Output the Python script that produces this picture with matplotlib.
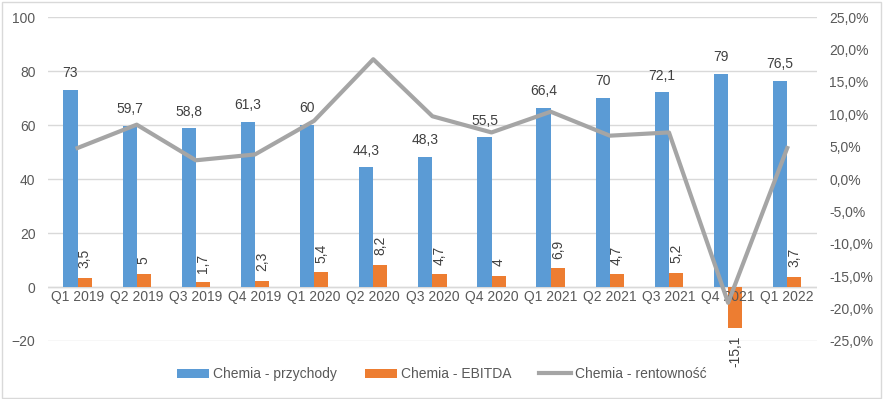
import numpy as np
import matplotlib.pyplot as plt
from matplotlib.patches import Rectangle
from matplotlib.ticker import FuncFormatter

plt.rcParams['font.family'] = ['Liberation Sans', 'DejaVu Sans']

quarters = ['Q1 2019', 'Q2 2019', 'Q3 2019', 'Q4 2019', 'Q1 2020', 'Q2 2020', 'Q3 2020',
            'Q4 2020', 'Q1 2021', 'Q2 2021', 'Q3 2021', 'Q4 2021', 'Q1 2022']
przychody = [73, 59.7, 58.8, 61.3, 60, 44.3, 48.3, 55.5, 66.4, 70, 72.1, 79, 76.5]
ebitda = [3.5, 5, 1.7, 2.3, 5.4, 8.2, 4.7, 4, 6.9, 4.7, 5.2, -15.1, 3.7]
rentownosc = [4.8, 8.4, 2.9, 3.8, 9.0, 18.5, 9.7, 7.2, 10.4, 6.7, 7.2, -19.1, 4.8]

blue = '#5B9BD5'
orange = '#ED7D31'
grey = '#A5A5A5'
txt = '#404040'
tick_col = '#595959'

def pl(v):
    return ('%g' % v).replace('.', ',')

fig = plt.figure(figsize=(8.84, 3.99), dpi=100)
fig.patches.append(Rectangle((0.002, 0.003), 0.995, 0.993, transform=fig.transFigure,
                             fill=False, edgecolor='#D9D9D9', linewidth=1))

ax = fig.add_axes([0.0543, 0.1454, 0.8697, 0.8116])
x = np.arange(len(quarters))
w = 0.24

ax.bar(x - w / 2, przychody, w, color=blue, label='Chemia - przychody', zorder=2)
ax.bar(x + w / 2, ebitda, w, color=orange, label='Chemia - EBITDA', zorder=2)

ax.set_xlim(-0.5, len(quarters) - 0.5)
ax.set_ylim(-20, 100)
ax.set_yticks(range(-20, 101, 20))
ax.yaxis.grid(True, color='#D9D9D9', linewidth=1, zorder=0)
ax.set_axisbelow(True)
for s in ax.spines.values():
    s.set_visible(False)
ax.axhline(0, color='#D9D9D9', linewidth=1, zorder=1)
ax.tick_params(axis='both', length=0, labelsize=10, colors=tick_col, pad=9)
ax.set_xticks([])

# category labels sit next to the zero line, like Excel does
for i, q in enumerate(quarters):
    ax.annotate(q, (x[i], 0), xytext=(0, -7.5), textcoords='offset points',
                ha='center', va='center', fontsize=10, color=tick_col, zorder=5)

for i, v in enumerate(przychody):
    ax.annotate(pl(v), (x[i] - w / 2, v), xytext=(0, 7), textcoords='offset points',
                ha='center', va='bottom', fontsize=10, color=txt)
for i, v in enumerate(ebitda):
    if v >= 0:
        ax.annotate(pl(v), (x[i] + w / 2, v), xytext=(0, 7), textcoords='offset points',
                    ha='center', va='bottom', rotation=90, fontsize=10, color=txt)
    else:
        ax.annotate(pl(v), (x[i] + w / 2, v), xytext=(0, -6), textcoords='offset points',
                    ha='center', va='top', rotation=90, fontsize=10, color=txt)

ax2 = ax.twinx()
ax2.plot(x, rentownosc, color=grey, linewidth=3, label='Chemia - rentowność', zorder=3)
ax2.set_ylim(-25, 25)
ax2.set_yticks(range(-25, 26, 5))
ax2.yaxis.set_major_formatter(FuncFormatter(lambda v, p: ('%.1f%%' % v).replace('.', ',')))
ax2.tick_params(axis='y', length=0, labelsize=10, colors=tick_col, pad=9)
for s in ax2.spines.values():
    s.set_visible(False)

h1, l1 = ax.get_legend_handles_labels()
h2, l2 = ax2.get_legend_handles_labels()
fig.legend(h1 + h2, l1 + l2, loc='center', bbox_to_anchor=(0.5, 0.062), ncol=3,
           frameon=False, fontsize=10, handlelength=2.3, handleheight=0.7,
           handletextpad=0.3, columnspacing=2.0, labelcolor=tick_col)

fig.savefig('out.png', dpi=100)
